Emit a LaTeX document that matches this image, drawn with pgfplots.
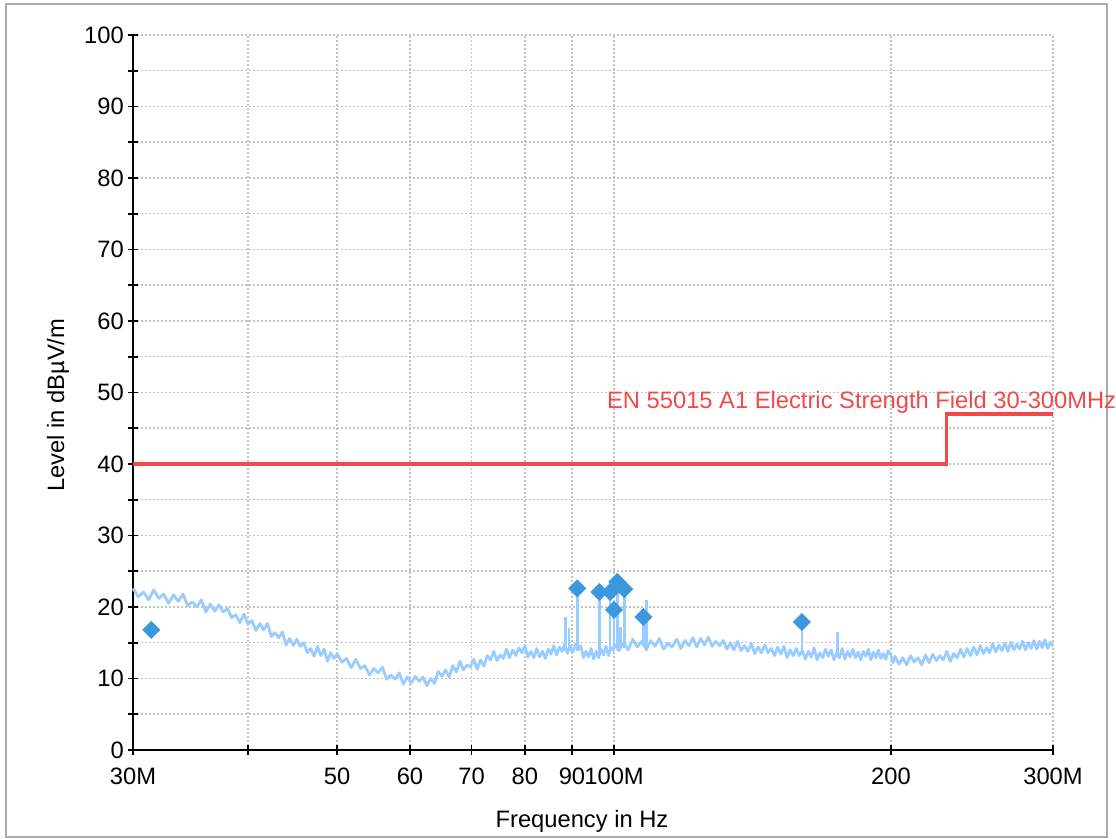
\documentclass[border=0pt]{standalone}
\usepackage{pgfplots}
\pgfplotsset{compat=1.18}
\usepackage{fontspec}
\setmainfont{Liberation Sans}

\definecolor{tracecol}{RGB}{153,204,255}
\definecolor{markcol}{RGB}{60,152,222}
\definecolor{limitred}{RGB}{242,72,72}
\definecolor{gridgray}{RGB}{195,195,195}
\definecolor{framegray}{RGB}{170,170,170}

% spectrum trace, frequency in MHz, level in dBuV/m
\pgfplotstableread{
f y
30.0 22.6
30.4 21.4
30.8 22.1
31.2 21.0
31.6 22.4
32.0 21.2
32.4 21.8
32.8 20.5
33.2 21.7
33.6 20.8
34.0 21.8
34.4 20.2
34.8 20.7
35.2 20.0
35.6 21.0
36.0 19.3
36.4 20.4
36.8 19.4
37.2 20.3
37.6 19.3
38.0 19.8
38.4 18.5
38.8 18.9
39.2 17.8
39.6 19.0
40.0 17.6
40.4 18.1
40.8 16.7
41.2 17.7
41.6 16.8
42.0 17.7
42.4 15.9
42.8 16.4
43.2 15.7
43.6 16.5
44.0 14.7
44.4 15.6
44.8 14.6
45.2 15.5
45.6 14.5
46.0 15.0
46.4 13.6
46.8 14.2
47.2 13.1
47.6 14.5
48.0 13.2
48.4 14.1
48.8 12.4
49.2 13.6
49.6 12.8
50.0 13.4
50.6 12.3
51.2 12.8
51.8 11.5
52.4 12.7
53.0 11.4
53.6 11.8
54.2 10.5
54.8 11.4
55.4 10.8
56.0 11.6
56.6 9.9
57.2 10.5
57.8 9.9
58.4 10.8
59.0 9.2
59.6 10.2
60.2 9.4
60.8 10.3
61.4 9.6
62.0 10.2
62.6 9.0
63.2 10.0
63.8 9.3
64.4 11.0
65.0 10.3
65.6 11.2
66.2 10.2
66.8 11.8
67.4 10.9
68.0 12.4
68.6 11.2
69.2 11.9
69.8 11.6
70.4 12.7
71.0 11.3
71.6 12.6
72.2 11.7
72.8 13.2
73.4 12.6
74.0 13.8
74.6 12.5
75.2 13.3
75.8 12.8
76.4 14.1
77.0 12.9
77.6 14.0
78.2 13.2
78.8 14.3
79.4 13.6
80.0 14.6
80.6 13.0
81.2 13.8
81.8 12.9
82.4 14.2
83.0 13.0
83.6 13.8
84.2 12.8
84.8 14.1
85.4 13.4
86.0 14.6
86.6 13.3
87.2 14.4
87.8 13.8
88.4 14.9
89.0 13.5
89.6 14.5
90.2 13.7
90.8 14.8
91.4 14.0
92.0 14.6
92.6 12.9
93.2 13.8
93.8 13.0
94.4 14.2
95.0 12.7
95.6 13.8
96.2 12.9
96.8 14.1
97.4 13.3
98.0 14.5
98.6 13.2
99.2 14.3
99.8 13.9
100.0 14.8
101.2 13.9
102.4 15.0
103.6 14.0
104.8 15.5
106.0 14.4
107.2 15.2
108.4 14.0
109.6 15.3
110.8 14.5
112.0 15.6
113.2 14.1
114.4 14.9
115.6 14.4
117.0 15.5
118.2 14.2
119.4 15.3
120.6 14.6
121.8 15.7
123.0 14.4
124.2 15.6
125.4 14.7
126.6 15.8
127.8 14.5
129.0 15.2
130.2 14.6
131.4 15.3
132.6 14.1
133.8 15.0
135.0 14.0
136.2 15.2
137.4 13.9
138.6 14.6
139.8 13.8
141.0 14.9
142.2 13.5
143.4 14.4
144.6 13.6
145.8 14.7
147.0 13.6
148.2 14.2
149.4 13.2
150.6 14.4
151.8 13.4
153.0 14.5
154.2 12.9
155.4 14.0
156.6 13.2
157.8 14.2
159.0 13.2
160.2 13.9
161.4 12.7
162.6 13.8
163.8 13.0
165.0 14.3
166.2 12.6
167.4 13.6
168.6 12.9
169.8 14.1
171.0 13.1
172.2 14.0
173.4 12.6
174.6 13.6
175.8 12.9
177.0 14.2
178.2 12.7
179.4 13.8
180.6 13.0
181.8 14.1
183.0 12.9
184.2 13.7
185.4 12.6
186.6 13.8
187.8 13.1
189.0 14.1
190.2 12.6
191.4 13.7
192.6 12.9
193.8 14.0
195.0 12.8
196.2 13.5
197.4 12.7
198.6 13.9
199.8 13.4
201 12.2
202 13.1
204 12.0
206 12.9
208 11.9
210 13.2
212 12.3
214 12.9
216 11.9
218 13.3
220 12.2
222 13.4
224 12.5
226 13.2
228 12.6
230 13.8
232 12.4
234 13.5
236 12.9
238 14.1
240 13.0
242 14.2
244 13.2
246 14.4
248 13.3
250 14.6
252 13.5
254 14.3
256 13.6
258 14.9
260 13.7
262 14.7
264 13.9
266 15.0
268 13.8
270 15.1
272 14.0
274 14.8
276 14.1
278 15.2
280 14.0
282 15.0
284 14.2
286 15.3
288 14.1
290 15.2
292 14.3
294 15.4
296 14.2
298 15.1
300 14.5
}\trace

% narrow peaks of the trace, segments split by nan rows
\pgfplotstableread{
f y
88.6 13.8
88.6 18.6
88.6 nan
89.3 13.8
89.3 17.0
89.3 nan
91.2 13.8
91.2 22.5
91.2 nan
96.4 13.5
96.4 22.0
96.4 nan
99.0 13.8
99.0 22.0
99.0 nan
100.0 14.0
100.0 19.5
100.0 nan
100.8 14.2
100.8 23.2
100.8 nan
101.6 14.2
101.6 17.2
101.6 nan
102.6 14.2
102.6 22.3
102.6 nan
107.6 14.5
107.6 18.5
107.6 nan
108.5 14.5
108.5 21.0
108.5 nan
160.0 13.5
160.0 17.8
160.0 nan
175.0 13.2
175.0 16.5
}\peaks

% final measurement points
\pgfplotstableread{
f y
31.4 16.8
91.2 22.6
96.4 22.1
99.0 22.1
100.0 19.6
100.8 23.5
102.6 22.5
107.6 18.6
160.0 17.9
}\finals

\begin{document}
\begin{tikzpicture}[font=\fontsize{13.5}{16}\selectfont]
\useasboundingbox (-26.6mm,-17.8mm) rectangle (196.6mm,150mm);
\draw[framegray, line width=0.4mm] (-25.3mm,-17.4mm) rectangle (194.8mm,149.1mm);
\begin{axis}[
    at={(0,0)}, anchor=south west,
    scale only axis,
    width=184mm, height=143mm,
    xmode=log,
    xmin=30, xmax=300,
    ymin=0, ymax=100,
    clip=false,
    unbounded coords=jump,
    axis x line*=bottom,
    axis y line*=left,
    axis line style={-, black, line width=0.35mm},
    tick style={black, line width=0.35mm},
    tick align=center,
    major tick length=2mm,
    minor tick length=2mm,
    xtick={30,40,50,60,70,80,90,100,200,300},
    xticklabels={30M,,50,60,70,80,90,100M,200,300M},
    minor xtick={},
    ytick={0,10,...,100},
    minor ytick={5,15,...,95},
    grid=both,
    grid style={gridgray, line width=0.3mm, dash pattern=on 0.4mm off 0.4mm},
    /pgf/number format/assume math mode=true,
    xticklabel style={yshift=-1.4mm},
    yticklabel style={xshift=0.4mm},
    xlabel={Frequency in Hz},
    ylabel={Level in dBµV/m},
    xlabel style={at={(axis description cs:0.488,0)}, anchor=base, yshift=-15.6mm},
    ylabel style={at={([xshift=-13.8mm]axis description cs:0,0.482)}, anchor=base},
]
\addplot[limitred, line width=0.65mm] coordinates {(30,40) (230,40) (230,47) (300,47)};
\node[anchor=base west, text=limitred, inner sep=0pt] at (axis cs:98.2,47.8)
    {EN 55015 A1 Electric Strength Field 30-300MHz};
\addplot[tracecol, line width=0.55mm, line join=round] table[x=f, y=y] {\trace};
\addplot[tracecol, line width=0.5mm] table[x=f, y=y] {\peaks};
\addplot[only marks, mark=square*, mark size=1.2mm, mark options={rotate=45, fill=markcol, draw=markcol}]
    table[x=f, y=y] {\finals};
\end{axis}
\end{tikzpicture}
\end{document}
